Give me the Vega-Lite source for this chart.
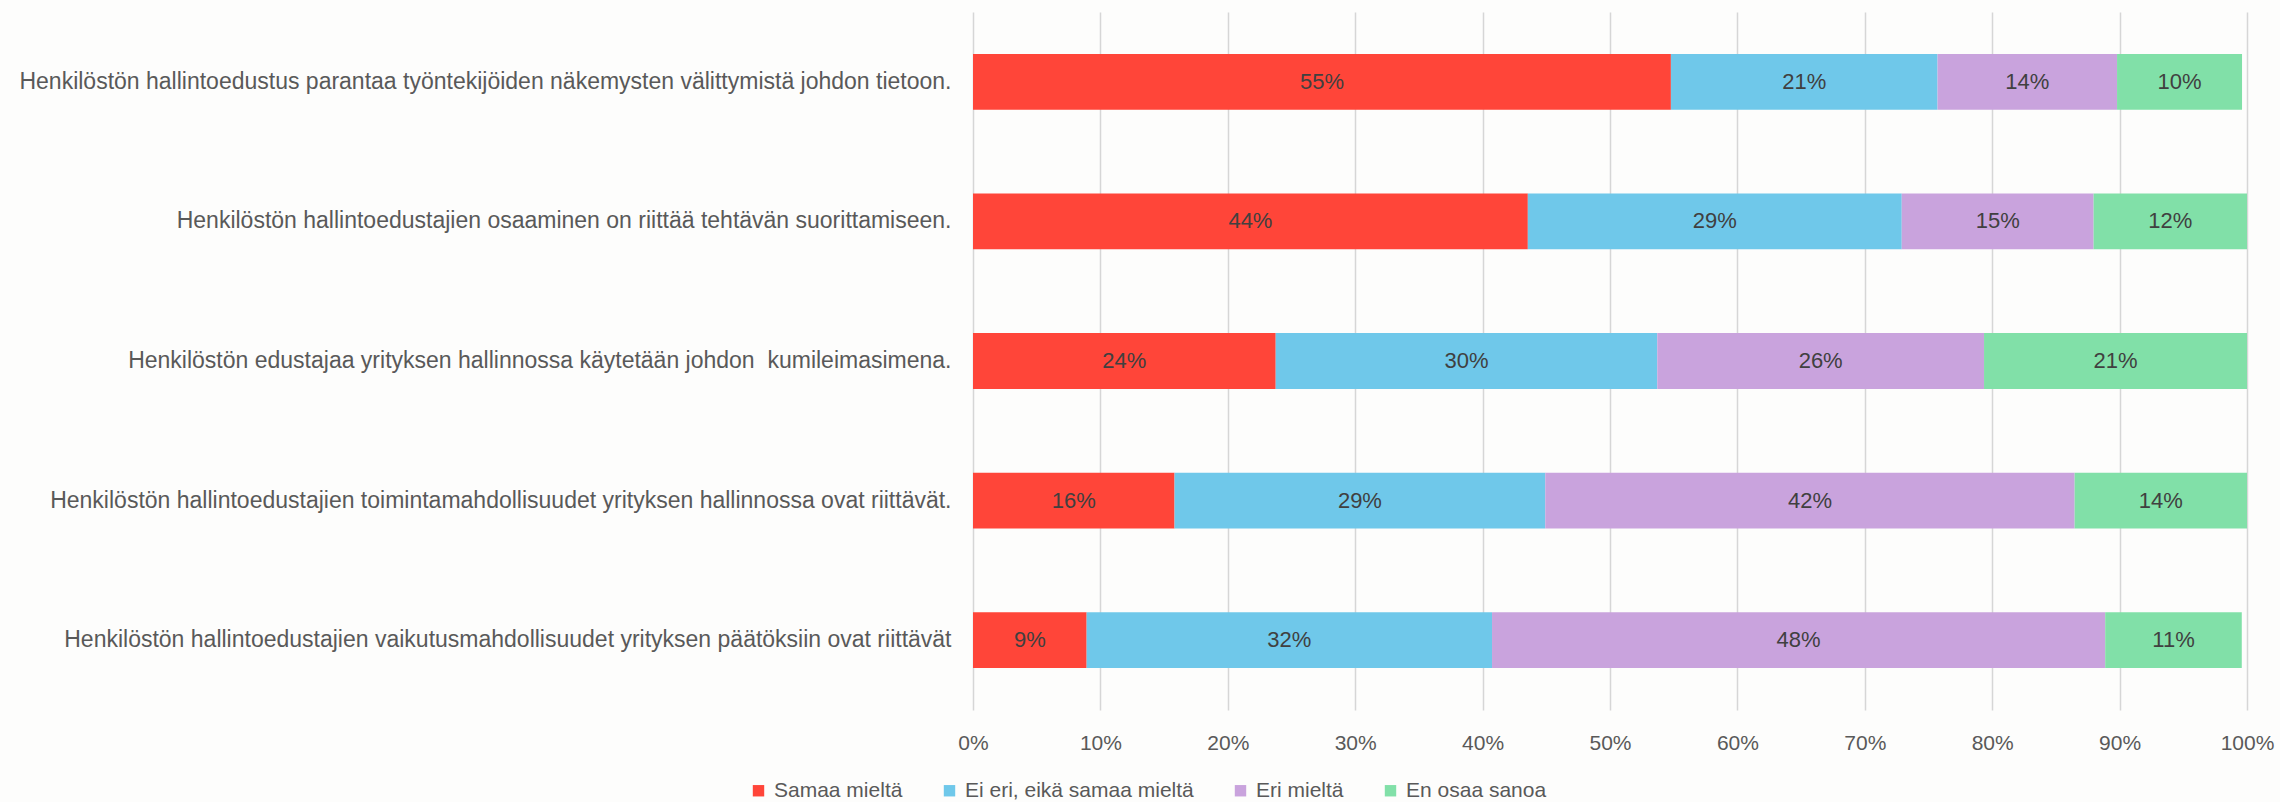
{
  "$schema": "https://vega.github.io/schema/vega-lite/v6.json",
  "width": 1274,
  "height": 698,
  "autosize": {"type": "none"},
  "padding": {"left": 973, "top": 12, "right": 33, "bottom": 92},
  "background": "#fdfdfc",
  "config": {
    "view": {"stroke": null},
    "font": "Liberation Sans"
  },
  "data": {
    "values": [
      {"q": "Henkilöstön hallintoedustus parantaa työntekijöiden näkemysten välittymistä johdon tietoon.", "cat": "Samaa mieltä", "ord": 1, "value": 0.5478},
      {"q": "Henkilöstön hallintoedustus parantaa työntekijöiden näkemysten välittymistä johdon tietoon.", "cat": "Ei eri, eikä samaa mieltä", "ord": 2, "value": 0.2093},
      {"q": "Henkilöstön hallintoedustus parantaa työntekijöiden näkemysten välittymistä johdon tietoon.", "cat": "Eri mieltä", "ord": 3, "value": 0.1409},
      {"q": "Henkilöstön hallintoedustus parantaa työntekijöiden näkemysten välittymistä johdon tietoon.", "cat": "En osaa sanoa", "ord": 4, "value": 0.0981},
      {"q": "Henkilöstön hallintoedustajien osaaminen on riittää tehtävän suorittamiseen.", "cat": "Samaa mieltä", "ord": 1, "value": 0.4355},
      {"q": "Henkilöstön hallintoedustajien osaaminen on riittää tehtävän suorittamiseen.", "cat": "Ei eri, eikä samaa mieltä", "ord": 2, "value": 0.2935},
      {"q": "Henkilöstön hallintoedustajien osaaminen on riittää tehtävän suorittamiseen.", "cat": "Eri mieltä", "ord": 3, "value": 0.1506},
      {"q": "Henkilöstön hallintoedustajien osaaminen on riittää tehtävän suorittamiseen.", "cat": "En osaa sanoa", "ord": 4, "value": 0.1204},
      {"q": "Henkilöstön edustajaa yrityksen hallinnossa käytetään johdon  kumileimasimena.", "cat": "Samaa mieltä", "ord": 1, "value": 0.2376},
      {"q": "Henkilöstön edustajaa yrityksen hallinnossa käytetään johdon  kumileimasimena.", "cat": "Ei eri, eikä samaa mieltä", "ord": 2, "value": 0.2995},
      {"q": "Henkilöstön edustajaa yrityksen hallinnossa käytetään johdon  kumileimasimena.", "cat": "Eri mieltä", "ord": 3, "value": 0.2565},
      {"q": "Henkilöstön edustajaa yrityksen hallinnossa käytetään johdon  kumileimasimena.", "cat": "En osaa sanoa", "ord": 4, "value": 0.2064},
      {"q": "Henkilöstön hallintoedustajien toimintamahdollisuudet yrityksen hallinnossa ovat riittävät.", "cat": "Samaa mieltä", "ord": 1, "value": 0.1582},
      {"q": "Henkilöstön hallintoedustajien toimintamahdollisuudet yrityksen hallinnossa ovat riittävät.", "cat": "Ei eri, eikä samaa mieltä", "ord": 2, "value": 0.2910},
      {"q": "Henkilöstön hallintoedustajien toimintamahdollisuudet yrityksen hallinnossa ovat riittävät.", "cat": "Eri mieltä", "ord": 3, "value": 0.4155},
      {"q": "Henkilöstön hallintoedustajien toimintamahdollisuudet yrityksen hallinnossa ovat riittävät.", "cat": "En osaa sanoa", "ord": 4, "value": 0.1353},
      {"q": "Henkilöstön hallintoedustajien vaikutusmahdollisuudet yrityksen päätöksiin ovat riittävät", "cat": "Samaa mieltä", "ord": 1, "value": 0.0892},
      {"q": "Henkilöstön hallintoedustajien vaikutusmahdollisuudet yrityksen päätöksiin ovat riittävät", "cat": "Ei eri, eikä samaa mieltä", "ord": 2, "value": 0.3182},
      {"q": "Henkilöstön hallintoedustajien vaikutusmahdollisuudet yrityksen päätöksiin ovat riittävät", "cat": "Eri mieltä", "ord": 3, "value": 0.4813},
      {"q": "Henkilöstön hallintoedustajien vaikutusmahdollisuudet yrityksen päätöksiin ovat riittävät", "cat": "En osaa sanoa", "ord": 4, "value": 0.1072}
    ]
  },
  "encoding": {
    "y": {
      "field": "q",
      "type": "nominal",
      "sort": null,
      "scale": {"paddingInner": 0.6, "paddingOuter": 0.3},
      "axis": {
        "title": null,
        "ticks": false,
        "domain": false,
        "labelFontSize": 23,
        "labelColor": "#595959",
        "labelPadding": 22,
        "labelLimit": 1000,
        "labelFont": "Liberation Sans",
        "labelExpr": "replace(datum.label, 'johdon  ', 'johdon\u00a0 ')"
      }
    },
    "x": {
      "field": "value",
      "type": "quantitative",
      "stack": "zero",
      "scale": {"domain": [0, 1], "nice": false},
      "axis": {
        "title": null,
        "format": ".0%",
        "values": [0, 0.1, 0.2, 0.3, 0.4, 0.5, 0.6, 0.7, 0.8, 0.9, 1],
        "grid": true,
        "gridColor": "#d6d6d6",
        "gridWidth": 1.5,
        "ticks": false,
        "domain": false,
        "labelOverlap": false,
        "labelFlush": false,
        "labelFontSize": 21,
        "labelColor": "#595959",
        "labelPadding": 22,
        "labelFont": "Liberation Sans"
      }
    },
    "order": {"field": "ord", "type": "quantitative"}
  },
  "layer": [
    {
      "mark": {"type": "bar"},
      "encoding": {
        "color": {
          "field": "cat",
          "type": "nominal",
          "scale": {
            "domain": ["Samaa mieltä", "Ei eri, eikä samaa mieltä", "Eri mieltä", "En osaa sanoa"],
            "range": ["#ff4539", "#6fc8ea", "#c9a3dd", "#81e0a8"]
          },
          "legend": {
            "title": null,
            "orient": "none",
            "direction": "horizontal",
            "legendX": -225,
            "legendY": 768,
            "symbolType": "square",
            "symbolSize": 130,
            "symbolStrokeWidth": 0,
            "labelFontSize": 21,
            "labelColor": "#595959",
            "labelOffset": 5,
            "columnPadding": 36,
            "labelFont": "Liberation Sans",
            "labelLimit": 400
          }
        }
      }
    },
    {
      "mark": {"type": "text", "fontSize": 22, "color": "#404040", "font": "Liberation Sans"},
      "encoding": {
        "x": {"field": "value", "type": "quantitative", "stack": "zero", "bandPosition": 0.5},
        "text": {"field": "value", "type": "quantitative", "format": ".0%"},
        "detail": {"field": "cat", "type": "nominal"}
      }
    }
  ]
}
